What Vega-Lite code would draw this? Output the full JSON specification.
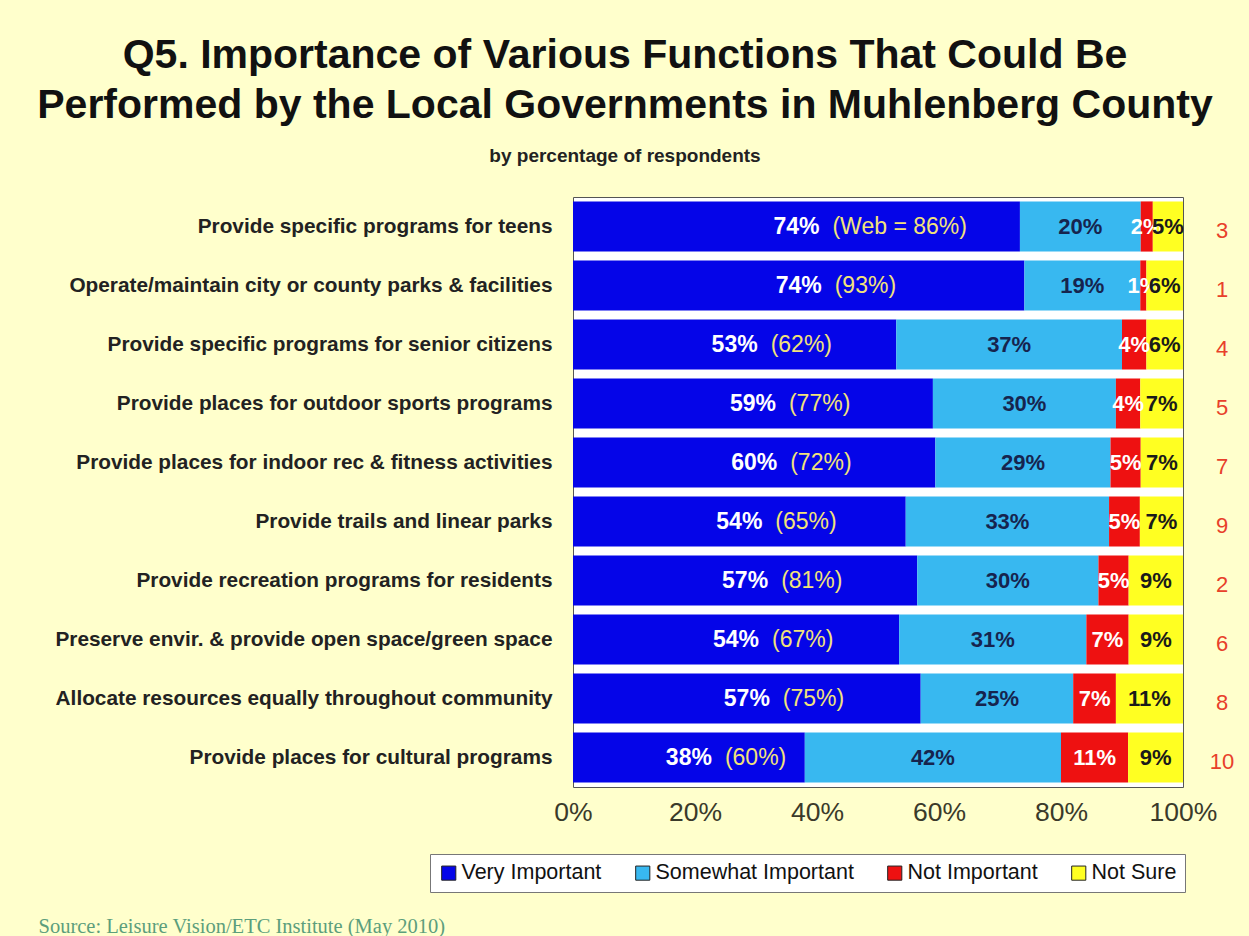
{
  "$schema": "https://vega.github.io/schema/vega-lite/v6.json",
  "width": 610,
  "height": 590,
  "autosize": {"type": "none"},
  "padding": {"left": 573, "top": 197, "right": 66, "bottom": 149},
  "background": "#FFFFCC",
  "config": {
    "font": "Liberation Sans",
    "view": {"fill": "white", "stroke": "#555555", "strokeWidth": 1}
  },
  "title": {
    "text": ["Q5. Importance of Various Functions That Could Be", "Performed by the Local Governments in Muhlenberg County"],
    "subtitle": "by percentage of respondents",
    "anchor": "middle",
    "frame": "group",
    "dx": -253,
    "fontSize": 41,
    "fontWeight": "bold",
    "color": "#111111",
    "lineHeight": 50,
    "subtitleFontSize": 19,
    "subtitleFontWeight": "bold",
    "subtitleColor": "#222222",
    "subtitlePadding": 20,
    "offset": 30
  },
  "data": {
    "values": [
      {"item": "Provide specific programs for teens", "response": "Very Important", "k": 1, "v": 0.74, "web": "(Web = 86%)", "rank": 3},
      {"item": "Provide specific programs for teens", "response": "Somewhat Important", "k": 2, "v": 0.20},
      {"item": "Provide specific programs for teens", "response": "Not Important", "k": 3, "v": 0.02},
      {"item": "Provide specific programs for teens", "response": "Not Sure", "k": 4, "v": 0.05},
      {"item": "Operate/maintain city or county parks & facilities", "response": "Very Important", "k": 1, "v": 0.74, "web": "(93%)", "rank": 1},
      {"item": "Operate/maintain city or county parks & facilities", "response": "Somewhat Important", "k": 2, "v": 0.19},
      {"item": "Operate/maintain city or county parks & facilities", "response": "Not Important", "k": 3, "v": 0.01},
      {"item": "Operate/maintain city or county parks & facilities", "response": "Not Sure", "k": 4, "v": 0.06},
      {"item": "Provide specific programs for senior citizens", "response": "Very Important", "k": 1, "v": 0.53, "web": "(62%)", "rank": 4},
      {"item": "Provide specific programs for senior citizens", "response": "Somewhat Important", "k": 2, "v": 0.37},
      {"item": "Provide specific programs for senior citizens", "response": "Not Important", "k": 3, "v": 0.04},
      {"item": "Provide specific programs for senior citizens", "response": "Not Sure", "k": 4, "v": 0.06},
      {"item": "Provide places for outdoor sports programs", "response": "Very Important", "k": 1, "v": 0.59, "web": "(77%)", "rank": 5},
      {"item": "Provide places for outdoor sports programs", "response": "Somewhat Important", "k": 2, "v": 0.30},
      {"item": "Provide places for outdoor sports programs", "response": "Not Important", "k": 3, "v": 0.04},
      {"item": "Provide places for outdoor sports programs", "response": "Not Sure", "k": 4, "v": 0.07},
      {"item": "Provide places for indoor rec & fitness activities", "response": "Very Important", "k": 1, "v": 0.60, "web": "(72%)", "rank": 7},
      {"item": "Provide places for indoor rec & fitness activities", "response": "Somewhat Important", "k": 2, "v": 0.29},
      {"item": "Provide places for indoor rec & fitness activities", "response": "Not Important", "k": 3, "v": 0.05},
      {"item": "Provide places for indoor rec & fitness activities", "response": "Not Sure", "k": 4, "v": 0.07},
      {"item": "Provide trails and linear parks", "response": "Very Important", "k": 1, "v": 0.54, "web": "(65%)", "rank": 9},
      {"item": "Provide trails and linear parks", "response": "Somewhat Important", "k": 2, "v": 0.33},
      {"item": "Provide trails and linear parks", "response": "Not Important", "k": 3, "v": 0.05},
      {"item": "Provide trails and linear parks", "response": "Not Sure", "k": 4, "v": 0.07},
      {"item": "Provide recreation programs for residents", "response": "Very Important", "k": 1, "v": 0.57, "web": "(81%)", "rank": 2},
      {"item": "Provide recreation programs for residents", "response": "Somewhat Important", "k": 2, "v": 0.30},
      {"item": "Provide recreation programs for residents", "response": "Not Important", "k": 3, "v": 0.05},
      {"item": "Provide recreation programs for residents", "response": "Not Sure", "k": 4, "v": 0.09},
      {"item": "Preserve envir. & provide open space/green space", "response": "Very Important", "k": 1, "v": 0.54, "web": "(67%)", "rank": 6},
      {"item": "Preserve envir. & provide open space/green space", "response": "Somewhat Important", "k": 2, "v": 0.31},
      {"item": "Preserve envir. & provide open space/green space", "response": "Not Important", "k": 3, "v": 0.07},
      {"item": "Preserve envir. & provide open space/green space", "response": "Not Sure", "k": 4, "v": 0.09},
      {"item": "Allocate resources equally throughout community", "response": "Very Important", "k": 1, "v": 0.57, "web": "(75%)", "rank": 8},
      {"item": "Allocate resources equally throughout community", "response": "Somewhat Important", "k": 2, "v": 0.25},
      {"item": "Allocate resources equally throughout community", "response": "Not Important", "k": 3, "v": 0.07},
      {"item": "Allocate resources equally throughout community", "response": "Not Sure", "k": 4, "v": 0.11},
      {"item": "Provide places for cultural programs", "response": "Very Important", "k": 1, "v": 0.38, "web": "(60%)", "rank": 10},
      {"item": "Provide places for cultural programs", "response": "Somewhat Important", "k": 2, "v": 0.42},
      {"item": "Provide places for cultural programs", "response": "Not Important", "k": 3, "v": 0.11},
      {"item": "Provide places for cultural programs", "response": "Not Sure", "k": 4, "v": 0.09}
    ]
  },
  "transform": [
    {"stack": "v", "groupby": ["item"], "sort": [{"field": "k", "order": "ascending"}], "as": ["x0", "x1"], "offset": "normalize"},
    {"calculate": "(datum.x0 + datum.x1) / 2", "as": "mid"}
  ],
  "encoding": {
    "y": {
      "field": "item",
      "type": "nominal",
      "sort": null,
      "scale": {"paddingInner": 0.15, "paddingOuter": 0.075},
      "axis": {
        "title": null,
        "ticks": false,
        "domain": false,
        "labelFontSize": 20.8,
        "labelFontWeight": "bold",
        "labelColor": "#222222",
        "labelPadding": 21,
        "labelLimit": 700
      }
    }
  },
  "layer": [
    {
      "mark": {"type": "bar"},
      "encoding": {
        "x": {
          "field": "x0",
          "type": "quantitative",
          "scale": {"domain": [0, 1], "nice": false},
          "axis": {
            "format": ".0%",
            "values": [0, 0.2, 0.4, 0.6, 0.8, 1],
            "grid": false,
            "ticks": false,
            "domain": false,
            "labelFlush": false,
            "labelFontSize": 26.5,
            "labelColor": "#3a3a2a",
            "labelPadding": 12,
            "title": "Source:  Leisure Vision/ETC Institute (May 2010)",
            "titleFont": "Liberation Serif",
            "titleFontWeight": "normal",
            "titleFontSize": 20.5,
            "titleColor": "#5c9e7c",
            "titleAnchor": "start",
            "titleAlign": "left",
            "titleBaseline": "middle",
            "titleX": -535,
            "titleY": 139
          }
        },
        "x2": {"field": "x1"},
        "color": {
          "field": "response",
          "type": "nominal",
          "scale": {
            "domain": ["Very Important", "Somewhat Important", "Not Important", "Not Sure"],
            "range": ["#0505E8", "#38B8F0", "#EE1111", "#FFFF22"]
          },
          "legend": {
            "title": null,
            "orient": "none",
            "legendX": -143,
            "legendY": 657,
            "direction": "horizontal",
            "symbolType": "square",
            "symbolSize": 200,
            "symbolStrokeColor": "#222222",
            "symbolStrokeWidth": 1,
            "symbolOpacity": 1,
            "labelFontSize": 21.5,
            "labelLimit": 400,
            "labelColor": "#111111",
            "labelOffset": 2,
            "columnPadding": 30,
            "fillColor": "white",
            "strokeColor": "#777777",
            "padding": 8
          }
        }
      }
    },
    {
      "transform": [{"filter": "datum.k > 1"}],
      "mark": {"type": "text", "fontSize": 22, "fontWeight": "bold", "align": "center", "baseline": "middle"},
      "encoding": {
        "x": {"field": "mid", "type": "quantitative"},
        "text": {"field": "v", "type": "quantitative", "format": ".0%"},
        "color": {
          "condition": [
            {"test": "datum.k === 2", "value": "#16244e"},
            {"test": "datum.k === 3", "value": "white"}
          ],
          "value": "#1a1a1a"
        }
      }
    },
    {
      "transform": [{"filter": "datum.k === 1"}],
      "mark": {"type": "text", "fontSize": 23, "fontWeight": "bold", "align": "right", "baseline": "middle", "dx": 23, "color": "white"},
      "encoding": {
        "x": {"field": "mid", "type": "quantitative"},
        "text": {"field": "v", "type": "quantitative", "format": ".0%"}
      }
    },
    {
      "transform": [{"filter": "datum.k === 1"}],
      "mark": {"type": "text", "fontSize": 23, "align": "left", "baseline": "middle", "dx": 36, "color": "#F2E27A"},
      "encoding": {
        "x": {"field": "mid", "type": "quantitative"},
        "text": {"field": "web", "type": "nominal"}
      }
    },
    {
      "transform": [{"filter": "datum.k === 1"}],
      "mark": {"type": "text", "fontSize": 22, "align": "center", "baseline": "middle", "dy": 4, "color": "#E8402A"},
      "encoding": {
        "x": {"datum": 1.064, "type": "quantitative"},
        "text": {"field": "rank", "type": "quantitative"}
      }
    }
  ]
}
